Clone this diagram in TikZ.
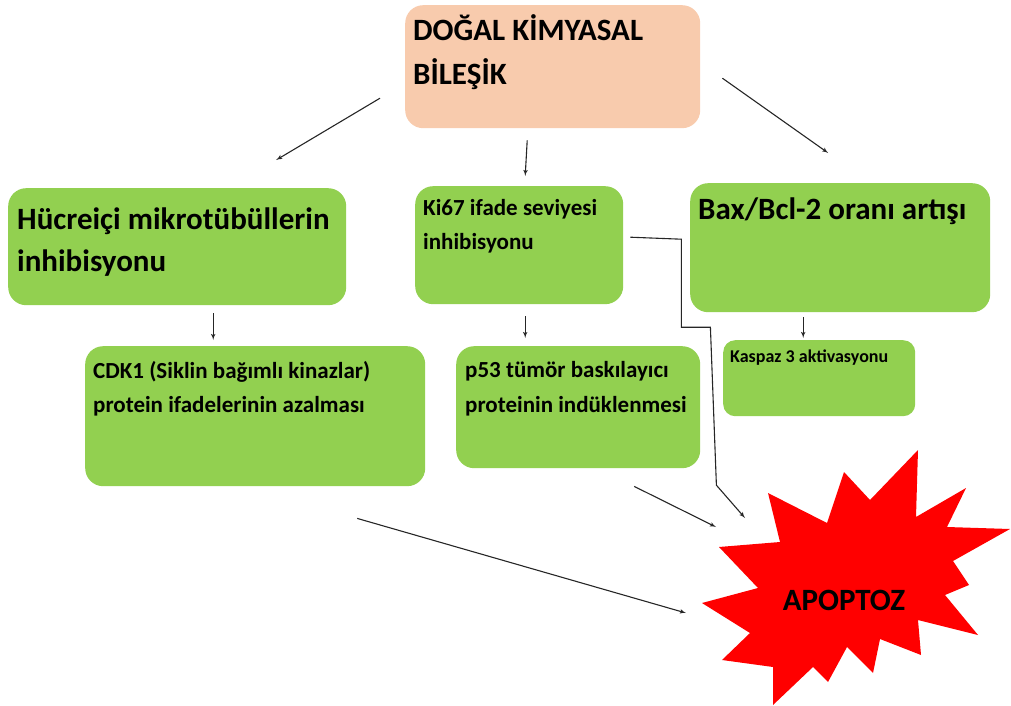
\documentclass[tikz,border=0pt]{standalone}
\usepackage{fontspec}
\setmainfont{Carlito}
\usepackage{tikz}
\definecolor{boxgreen}{HTML}{92D050}
\definecolor{peach}{HTML}{F8CBAD}
\definecolor{burst}{HTML}{FF0000}
\definecolor{linegray}{HTML}{262626}
\tikzstyle{box}=[fill=boxgreen, rounded corners=18pt, anchor=north west, inner sep=0pt]
\tikzstyle{lbl}=[anchor=base west, inner sep=0pt, align=left]
\tikzstyle{arrow}=[line width=1.1pt, linegray, ->]
\usetikzlibrary{arrows,calc,positioning}

\begin{document}
\begin{tikzpicture}[x=1pt,y=-1pt,>=latex']
    \useasboundingbox (0,0) rectangle (1011,706);
    % boxes
    \node (top) [box,fill=peach,minimum width=295pt,minimum height=123pt] at (405,5) {};
    \node (hyp) [box,minimum width=338pt,minimum height=117pt] at (8,188) {};
    \node (ki) [box,minimum width=208pt,minimum height=118pt] at (415,186) {};
    \node (bax) [box,minimum width=300pt,minimum height=129pt] at (690,183) {};
    \node (cdk) [box,minimum width=340pt,minimum height=140pt] at (85,346) {};
    \node (p53) [box,minimum width=244pt,minimum height=122pt] at (456,346) {};
    \node (kas) [box,rounded corners=12pt,minimum width=192pt,minimum height=76pt] at (723,340) {};
    % texts (base = last line)
    \node (topt) [lbl,font=\bfseries\fontsize{31}{44}\selectfont] at (413,85) {DOĞAL KİMYASAL\\BİLEŞİK};
    \node (hypt) [lbl,font=\bfseries\fontsize{31}{42}\selectfont] at (17,271) {Hücreiçi mikrotübüllerin\\inhibisyonu};
    \node (kit) [lbl,font=\bfseries\fontsize{23}{34}\selectfont] at (423,249) {Ki67 ifade seviyesi\\inhibisyonu};
    \node (baxt) [lbl,font=\bfseries\fontsize{31}{40}\selectfont] at (698,219) {Bax/Bcl-2 oranı artışı};
    \node (cdkt) [lbl,font=\bfseries\fontsize{23}{34}\selectfont] at (93,412) {CDK1 (Siklin bağımlı kinazlar)\\protein ifadelerinin azalması};
    \node (p53t) [lbl,font=\bfseries\fontsize{23}{35}\selectfont] at (465,412) {p53 tümör baskılayıcı\\proteinin indüklenmesi};
    \node (kast) [lbl,font=\bfseries\fontsize{18}{22}\selectfont] at (730,362) {Kaspaz 3 aktivasyonu};
    % explosion
    \fill[burst] (918,450) -- (916,517) -- (966,488) -- (947,527) -- (1010,529)
        -- (953,561) -- (969,585) -- (945,595) -- (978,635) -- (918,620)
        -- (921,655) -- (880,639) -- (873,673) -- (847,647) -- (828,682)
        -- (813,667) -- (773,705) -- (773,667) -- (722,660) -- (750,633)
        -- (702,603) -- (758,588) -- (719,547) -- (780,542) -- (768,493)
        -- (827,523) -- (844,472) -- (870,500) -- cycle;
    \node (apo) [font=\bfseries\fontsize{31}{36}\selectfont] at (844,600) {APOPTOZ};
    % connectors
    \draw[arrow] ($(top.west)+(-25,31.5)$) -- ($(hyp.north)+(99,-28)$);
    \draw[arrow] ($(top.south)+(-25.5,12)$) -- ($(ki.north)+(6,-10)$);
    \draw[arrow] ($(top.east)+(22,11.5)$) -- ($(bax.north)+(-12,-30)$);
    \draw[arrow] ($(hyp.south)+(36,8)$) -- ($(cdk.north)+(-42,-6)$);
    \draw[arrow] ($(ki.south)+(6,12)$) -- ($(p53.north)+(-53,-8)$);
    \draw[arrow] ($(bax.south)+(-37,5)$) -- ($(kas.north)+(-16,-2)$);
    \draw[arrow] ($(ki.east)+(7,-8)$) -- ++(51,2) -- ++(0,88) -- ++(29,0) -- ++(6,158)
        -- ($(apo)+(-99,-82)$);
    \draw[arrow] ($(p53.south)+(56,18)$) -- ($(apo)+(-128,-73)$);
    \draw[arrow] ($(cdk.south)+(102,32)$) -- ($(apo)+(-158,13)$);
\end{tikzpicture}
\end{document}
